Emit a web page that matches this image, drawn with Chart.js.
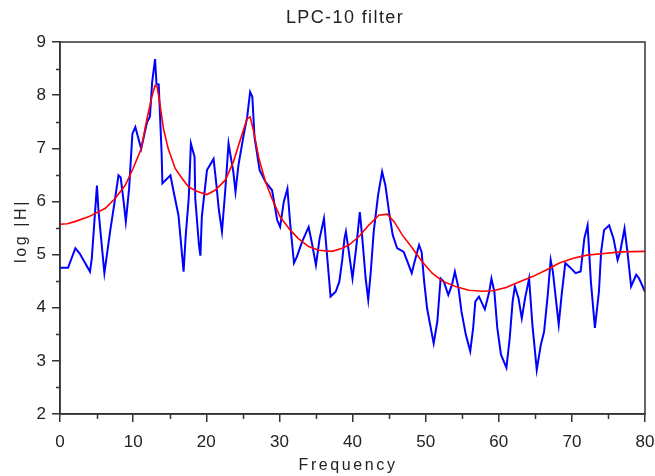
<!DOCTYPE html>
<html>
<head>
<meta charset="utf-8">
<script src="https://cdn.jsdelivr.net/npm/chart.js@4.4.1/dist/chart.umd.min.js"></script>
<style>
  html, body { margin: 0; padding: 0; background: #fff; }
  canvas { display: block; }
</style>
</head>
<body>
<canvas id="lpc" width="655" height="476"></canvas>
<script>
// spectrum (blue)
const specFreq = [0, 1.1, 2.1, 2.7, 4.1, 4.35, 5.05, 5.25, 6.07, 6.85, 7.4, 8.0, 8.3, 8.7, 9.0, 9.45, 9.9, 10.3, 11.1, 11.9, 12.3, 12.6, 13.0, 13.2, 13.5, 13.9, 14.0, 15.1, 15.5, 16.2, 16.9, 17.2, 17.6, 17.9, 18.4, 18.5, 19.0, 19.2, 19.4, 20.1, 21.0, 21.4, 21.7, 22.15, 22.6, 23.05, 23.4, 23.7, 24.0, 24.4, 25.1, 25.6, 26.0, 26.3, 26.6, 27.3, 28.1, 29.0, 29.7, 30.1, 30.6, 31.1, 31.5, 32.0, 32.4, 33.1, 34.0, 34.5, 35.0, 35.5, 36.1, 36.5, 37.0, 37.7, 38.2, 38.6, 38.9, 39.1, 39.5, 40.0, 40.5, 41.0, 41.3, 41.8, 42.15, 42.5, 42.9, 43.5, 44.05, 44.5, 45.0, 45.5, 46.1, 47.0, 47.5, 48.1, 48.5, 49.1, 49.45, 49.8, 50.2, 50.7, 51.1, 51.6, 52.05, 52.5, 53.1, 53.6, 54.0, 54.5, 54.9, 55.5, 56.1, 56.5, 56.8, 57.3, 58.1, 58.7, 59.0, 59.4, 59.8, 60.3, 61.05, 61.5, 61.9, 62.2, 62.7, 63.15, 63.6, 64.15, 64.6, 65.2, 65.75, 66.2, 66.7, 67.1, 67.4, 67.8, 68.2, 68.6, 69.1, 69.9, 70.5, 71.2, 71.7, 72.15, 72.6, 73.15, 73.7, 74.0, 74.4, 75.1, 75.7, 76.25, 76.6, 77.2, 77.6, 78.1, 78.8, 79.2, 80.0];
const specLog = [4.75, 4.75, 5.12, 5.02, 4.68, 4.93, 6.30, 5.85, 4.65, 5.43, 5.93, 6.49, 6.45, 6.0, 5.62, 6.24, 7.27, 7.40, 6.99, 7.49, 7.6, 8.24, 8.68, 8.2, 8.2, 6.90, 6.34, 6.49, 6.21, 5.74, 4.68, 5.37, 6.05, 7.09, 6.84, 6.05, 5.18, 4.98, 5.72, 6.59, 6.80, 6.30, 5.87, 5.43, 6.21, 7.09, 6.8, 6.56, 6.18, 6.68, 7.24, 7.59, 8.06, 7.97, 7.21, 6.59, 6.37, 6.21, 5.65, 5.52, 5.99, 6.24, 5.55, 4.84, 4.96, 5.24, 5.52, 5.18, 4.80, 5.30, 5.68, 5.02, 4.21, 4.30, 4.49, 4.9, 5.30, 5.43, 5.05, 4.55, 5.12, 5.80, 5.37, 4.55, 4.15, 4.68, 5.43, 6.12, 6.56, 6.30, 5.80, 5.37, 5.12, 5.05, 4.87, 4.65, 4.87, 5.18, 5.05, 4.49, 3.99, 3.62, 3.33, 3.74, 4.55, 4.49, 4.24, 4.43, 4.68, 4.37, 3.93, 3.49, 3.18, 3.62, 4.12, 4.21, 3.97, 4.30, 4.55, 4.30, 3.62, 3.12, 2.87, 3.43, 4.12, 4.40, 4.18, 3.80, 4.18, 4.55, 3.68, 2.83, 3.30, 3.55, 4.24, 4.90, 4.68, 4.18, 3.68, 4.24, 4.84, 4.74, 4.65, 4.68, 5.30, 5.55, 4.49, 3.62, 4.30, 5.05, 5.46, 5.55, 5.30, 4.90, 5.05, 5.49, 5.05, 4.40, 4.62, 4.55, 4.30];

// LPC envelope (red)
const envFreq = [0, 1.0, 2.0, 3.9, 6.2, 7.5, 8.9, 10.0, 11.1, 11.9, 12.6, 13.0, 13.3, 13.7, 14.15, 14.8, 15.75, 16.7, 17.6, 18.9, 20.1, 21.2, 22.6, 23.7, 24.7, 25.6, 26.0, 26.5, 27.2, 28.1, 29.0, 30.1, 31.5, 32.6, 34.0, 35.4, 37.2, 38.6, 39.5, 40.9, 42.2, 43.6, 44.75, 45.7, 46.8, 48.2, 49.5, 50.9, 52.3, 54.1, 55.9, 57.8, 59.2, 61.0, 62.85, 64.7, 66.5, 68.3, 70.2, 72.05, 74.4, 76.7, 80];
const envLog = [5.57, 5.58, 5.62, 5.71, 5.87, 6.05, 6.30, 6.62, 6.99, 7.56, 7.99, 8.18, 8.15, 7.80, 7.37, 6.99, 6.62, 6.43, 6.27, 6.18, 6.13, 6.21, 6.40, 6.74, 7.18, 7.56, 7.59, 7.31, 6.81, 6.37, 6.05, 5.71, 5.46, 5.30, 5.15, 5.08, 5.06, 5.12, 5.18, 5.34, 5.55, 5.74, 5.76, 5.62, 5.37, 5.12, 4.87, 4.65, 4.50, 4.40, 4.33, 4.31, 4.32, 4.38, 4.49, 4.59, 4.71, 4.84, 4.93, 4.99, 5.02, 5.05, 5.06];

const xMinorTicks = [5, 15, 25, 35, 45, 55, 65, 75];
const yMinorTicks = [2.5, 3.5, 4.5, 5.5, 6.5, 7.5, 8.5];

const toPoints = (xs, ys) => xs.map((x, i) => ({ x: x, y: ys[i] }));

const axisColor = '#333';
const textColor = '#222';
const fontFamily = '"Liberation Sans", Arial, Helvetica, sans-serif';

// title and axis names, drawn with a bit of letter spacing like the original
const textPlugin = {
  id: 'textPlugin',
  afterDraw(chart) {
    const ctx = chart.ctx;
    ctx.save();
    ctx.fillStyle = textColor;
    ctx.textAlign = 'center';
    ctx.textBaseline = 'middle';

    ctx.font = '18px ' + fontFamily;
    ctx.letterSpacing = '1.4px';
    ctx.fillText('LPC-10 filter', 345, 18);

    ctx.font = '16px ' + fontFamily;
    ctx.letterSpacing = '2.6px';
    ctx.fillText('Frequency', 348, 466);

    ctx.translate(22, 231);
    ctx.rotate(-Math.PI / 2);
    ctx.fillText('log |H|', 0, 0);
    ctx.restore();
  }
};

// box round the plot plus the short minor ticks
const framePlugin = {
  id: 'framePlugin',
  afterDraw(chart) {
    const ctx = chart.ctx;
    const a = chart.chartArea;
    const xs = chart.scales.x;
    const ys = chart.scales.y;
    ctx.save();
    ctx.strokeStyle = axisColor;
    ctx.lineWidth = 1.5;
    ctx.strokeRect(a.left, a.top, a.right - a.left, a.bottom - a.top);
    ctx.beginPath();
    xMinorTicks.forEach(v => {
      const px = Math.round(xs.getPixelForValue(v)) + 0.5;
      ctx.moveTo(px, a.bottom);
      ctx.lineTo(px, a.bottom + 5);
    });
    yMinorTicks.forEach(v => {
      const py = Math.round(ys.getPixelForValue(v)) + 0.5;
      ctx.moveTo(a.left - 4, py);
      ctx.lineTo(a.left, py);
    });
    ctx.stroke();
    ctx.restore();
  }
};

new Chart(document.getElementById('lpc'), {
  type: 'line',
  data: {
    datasets: [
      {
        data: toPoints(specFreq, specLog),
        borderColor: '#0000ff',
        borderWidth: 2,
        tension: 0,
        order: 1
      },
      {
        data: toPoints(envFreq, envLog),
        borderColor: '#ff0000',
        borderWidth: 1.6,
        tension: 0,
        order: 0
      }
    ]
  },
  options: {
    responsive: false,
    devicePixelRatio: 1,
    animation: false,
    elements: { point: { radius: 0 } },
    layout: { padding: { top: 42, right: 10, bottom: 0, left: 0 } },
    plugins: {
      legend: { display: false },
      tooltip: { enabled: false }
    },
    scales: {
      x: {
        type: 'linear',
        min: 0,
        max: 80,
        afterFit: s => { s.height = 62; s.paddingRight = 0; s.paddingLeft = 0; },
        border: { display: true, color: axisColor, width: 1.5 },
        grid: { drawOnChartArea: false, drawTicks: true, tickLength: 8, color: axisColor, lineWidth: 1.5 },
        ticks: { stepSize: 10, padding: 10, color: textColor, font: { size: 17, family: fontFamily }, maxRotation: 0 }
      },
      y: {
        min: 2,
        max: 9,
        afterFit: s => { s.width = 60; s.paddingTop = 0; s.paddingBottom = 0; },
        border: { display: true, color: axisColor, width: 1.5 },
        grid: { drawOnChartArea: false, drawTicks: true, tickLength: 8, color: axisColor, lineWidth: 1.5 },
        ticks: { stepSize: 1, padding: 6, color: textColor, font: { size: 17, family: fontFamily } }
      }
    }
  },
  plugins: [textPlugin, framePlugin]
});
</script>
</body>
</html>
